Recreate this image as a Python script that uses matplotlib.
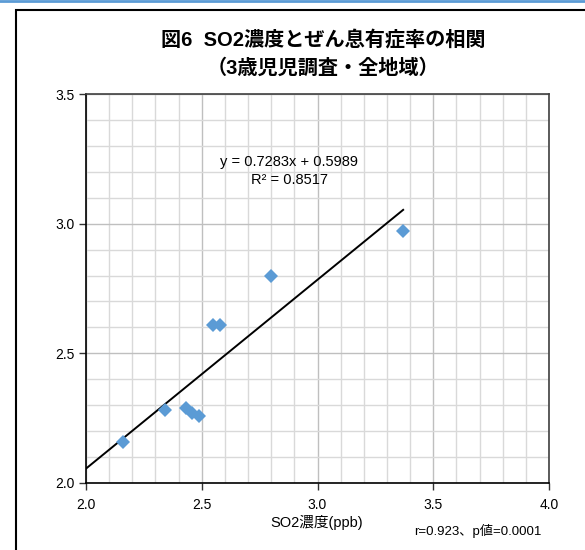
import matplotlib
matplotlib.use("Agg")
import matplotlib.pyplot as plt
from matplotlib.patches import Rectangle
from matplotlib.lines import Line2D
from matplotlib.ticker import MultipleLocator, FormatStrFormatter
import numpy as np

plt.rcParams['font.family'] = ['Liberation Sans', 'Noto Sans CJK JP', 'DejaVu Sans']

so2 = [2.16, 2.34, 2.43, 2.46, 2.49, 2.55, 2.58, 2.80, 3.37]
asthma = [2.16, 2.28, 2.29, 2.27, 2.26, 2.61, 2.61, 2.80, 2.97]
slope = 0.7283
intercept = 0.5989
title1 = "図6  SO2濃度とぜん息有症率の相関"
title2 = "（3歳児児調査・全地域）"
eq_text = "y = 0.7283x + 0.5989\nR² = 0.8517"
xlabel = "SO2濃度(ppb)"
stat_text = "r=0.923、p値=0.0001"

fig = plt.figure(figsize=(5.85, 5.5), dpi=100)
W, H = 585, 550

# outer frame and top blue line
fig.patches.append(Rectangle((16 / W, -0.05), 1.2, 1 - 10 / H + 0.05, transform=fig.transFigure,
                             fill=False, edgecolor='black', linewidth=1.5, zorder=0))
fig.lines.append(Line2D([0, 1], [1 - 1 / H, 1 - 1 / H], transform=fig.transFigure,
                        color='#5B9BD5', linewidth=2))

ax = fig.add_axes([86 / W, 1 - 483 / H, (549 - 86) / W, (483 - 94) / H])
ax.set_xlim(2.0, 4.0)
ax.set_ylim(2.0, 3.5)
ax.xaxis.set_major_locator(MultipleLocator(0.5))
ax.yaxis.set_major_locator(MultipleLocator(0.5))
ax.xaxis.set_minor_locator(MultipleLocator(0.1))
ax.yaxis.set_minor_locator(MultipleLocator(0.1))
ax.xaxis.set_major_formatter(FormatStrFormatter('%.1f'))
ax.yaxis.set_major_formatter(FormatStrFormatter('%.1f'))
ax.grid(True, which='major', color='#bfbfbf', linewidth=1.0, zorder=0)
ax.grid(True, which='minor', color='#d9d9d9', linewidth=1.0, zorder=0)
ax.set_axisbelow(True)
ax.tick_params(which='major', direction='out', length=5, labelsize=10, width=1, color='#333333')
ax.tick_params(which='minor', length=0)
ax.tick_params(axis='x', pad=6)
for s in ax.spines.values():
    s.set_color('#404040')
    s.set_linewidth(1.2)
ax.spines['left'].set_color('black')
ax.spines['bottom'].set_color('black')

ax.plot(so2, asthma, linestyle='none', marker='D', markersize=7, color='#5B9BD5',
        markeredgewidth=0, zorder=3)
xs = np.array([2.0, max(so2)])
ax.plot(xs, slope * xs + intercept, color='black', linewidth=1.4, zorder=2)

ax.text(2.877, 3.203, eq_text, ha='center', va='center', fontsize=10.5, linespacing=1.45)

fig.text(323 / W, 1 - 40 / H, title1, ha='center', va='center', fontsize=14.5,
         fontweight='bold')
fig.text(323 / W, 1 - 68 / H, title2, ha='center', va='center', fontsize=14.5,
         fontweight='bold')
fig.text(317 / W, 1 - 522 / H, xlabel, ha='center', va='center', fontsize=10.5)
fig.text(478 / W, 1 - 531 / H, stat_text, ha='center', va='center', fontsize=9.5)

fig.savefig('out.png', dpi=100)
